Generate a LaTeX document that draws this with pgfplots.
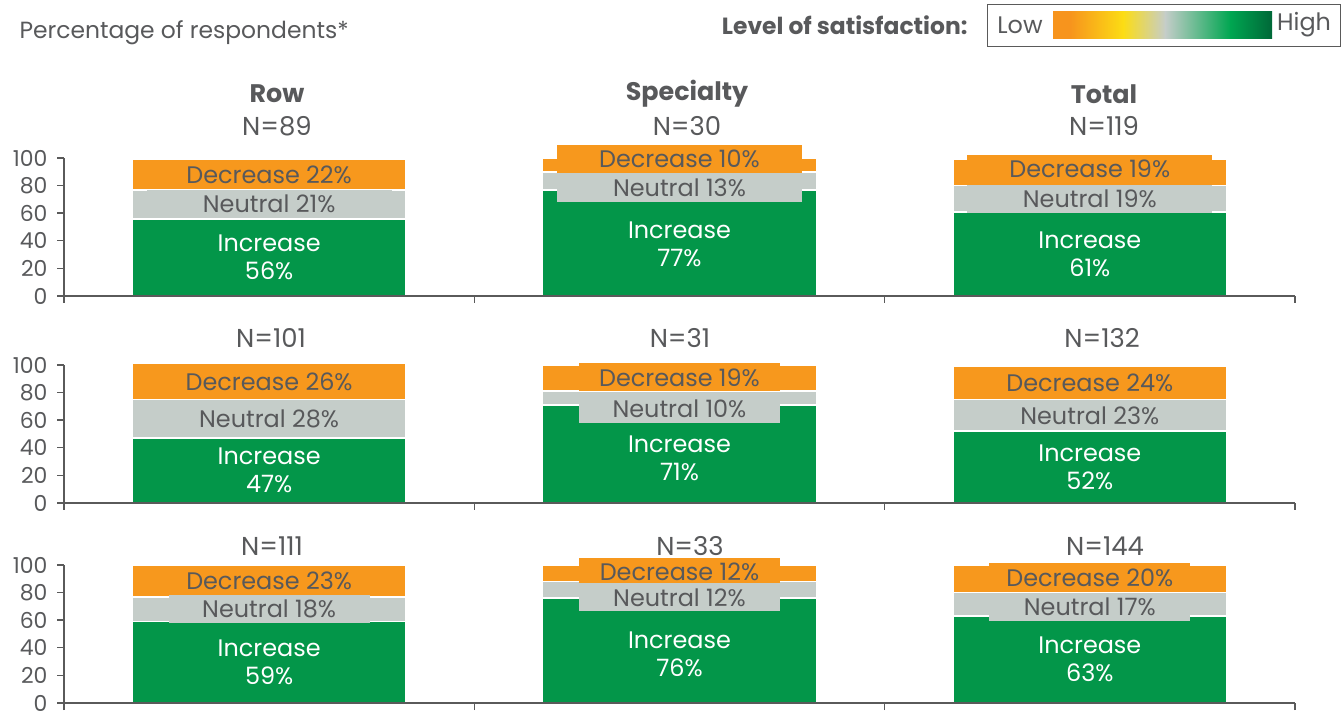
\documentclass[border=0pt]{standalone}
\usepackage{pgfplots}
\pgfplotsset{compat=1.18}
\usepackage{pgfplotstable}
\usepackage{fontspec}
\setmainfont{Poppins}

\definecolor{incgreen}{RGB}{3,150,73}
\definecolor{neugray}{RGB}{197,205,201}
\definecolor{decorange}{RGB}{247,152,29}
\definecolor{txtgray}{RGB}{88,89,91}
\definecolor{axgray}{RGB}{90,90,90}
\definecolor{gorange}{RGB}{247,148,29}
\definecolor{gyellow}{RGB}{252,221,20}
\definecolor{ggray}{RGB}{197,205,201}
\definecolor{ggreen}{RGB}{0,166,81}
\definecolor{gdark}{RGB}{0,104,56}

\newcommand\lblsz{\fontsize{24}{28}\selectfont}
\newcommand\ticksz{\fontsize{22}{24}\selectfont}
\newcommand\nsz{\fontsize{26}{30}\selectfont}
\newcommand\ttlsz{\bfseries\fontsize{25.5}{30}\selectfont}

% x: 0 = Row, 1 = Specialty, 2 = Total
% inc/neu/dec in percent; *off = label nudge in percentage points
\pgfplotstableread{
x inc neu dec incoff neuoff decoff
0 56 21 22  0   0    0
1 77 13 10 -1  -5    4
2 61 19 19  0   0    2.5
}\panelA
\pgfplotstableread{
x inc neu dec incoff neuoff decoff
0 47 28 26  0   0    0
1 71 10 19 -3  -8    0.5
2 52 23 24  0   0    0
}\panelB
\pgfplotstableread{
x inc neu dec incoff neuoff decoff
0 59 18 23  0   0    0
1 76 12 12 -3  -5.5  1
2 63 17 20  0  -2    1
}\panelC

\pgfplotsset{
  panel/.style={
    ybar stacked,
    scale only axis,
    width=1231bp, height=138bp,
    anchor=south west,
    xmin=-0.5, xmax=2.5, ymin=0, ymax=100,
    axis x line=bottom, axis y line=left,
    axis line style={-, draw=axgray, line width=1.4bp},
    xtick={-0.5,0.5,1.5,2.5}, xticklabels={},
    ytick={0,20,40,60,80,100},
    tick align=outside,
    major tick length=7bp,
    tick style={draw=axgray, line width=1.4bp},
    yticklabel style={font=\ticksz, text=txtgray, xshift=-6bp},
    /pgf/number format/assume math mode=true,
    bar width=0.668,
    clip=false,
    axis on top,
  },
  seg/.style={draw=white, line width=1.6bp},
}
\tikzset{
  lbl/.style={draw=none, inner xsep=0pt, inner ysep=0pt, minimum height=28bp,
    minimum width=\boxw, font=\lblsz, align=center, anchor=center},
}

% labels sit at the middle of each segment, nudged by the *off columns
\newcommand\segments[1]{%
  \addplot[fill=incgreen, seg,
    visualization depends on={\thisrow{inc} \as \val},
    visualization depends on={\thisrow{incoff} \as \dy},
    nodes near coords={Increase\\\pgfmathprintnumber{\val}\%},
    every node near coord/.style={lbl, fill=incgreen, text=white,
      shift={(axis direction cs:0,\dy)}}]
    table[x=x, y=inc] {#1};
  \addplot[fill=neugray, seg,
    visualization depends on={\thisrow{neu} \as \val},
    visualization depends on={\thisrow{neuoff} \as \dy},
    nodes near coords={Neutral \pgfmathprintnumber{\val}\%},
    every node near coord/.style={lbl, fill=neugray, text=txtgray,
      shift={(axis direction cs:0,\dy)}}]
    table[x=x, y=neu] {#1};
  \addplot[fill=decorange, seg,
    visualization depends on={\thisrow{dec} \as \val},
    visualization depends on={\thisrow{decoff} \as \dy},
    nodes near coords={Decrease \pgfmathprintnumber{\val}\%},
    every node near coord/.style={lbl, fill=decorange, text=txtgray,
      shift={(axis direction cs:0,\dy)}}]
    table[x=x, y=dec] {#1};
}

\begin{document}
\begin{tikzpicture}[x=1bp, y=1bp]
\useasboundingbox (0,0) rectangle (1344,710);

% header
\node[anchor=west, text=txtgray, font=\fontsize{23.5}{27}\selectfont] at (16,677) {Percentage of respondents*};
\node[anchor=east, text=txtgray, font=\bfseries\fontsize{23.5}{27}\selectfont] at (971,685) {Level of satisfaction:};
\draw[axgray, line width=1bp] (987,663) rectangle (1340,705);
\node[text=txtgray, font=\fontsize{24}{27}\selectfont] at (1020,685) {Low};
\node[text=txtgray, font=\fontsize{24}{27}\selectfont] at (1304,685) {High};
\shade[left color=gorange, right color=gorange] (1053,671) rectangle (1070.5,698);
\shade[left color=gorange, right color=gyellow] (1070,671) rectangle (1123.5,698);
\shade[left color=gyellow, right color=ggray] (1123,671) rectangle (1165.5,698);
\shade[left color=ggray, right color=ggreen] (1165,671) rectangle (1230.5,698);
\shade[left color=ggreen, right color=gdark] (1230,671) rectangle (1272,698);

% column titles
\node[text=txtgray, font=\ttlsz] at (277,616) {Row};
\node[text=txtgray, font=\ttlsz] at (687,616) {Specialty};
\node[text=txtgray, font=\ttlsz] at (1104,616) {Total};

% sample sizes
\node[text=txtgray, font=\nsz] at (277,584) {N=89};
\node[text=txtgray, font=\nsz] at (687,584) {N=30};
\node[text=txtgray, font=\nsz] at (1104,584) {N=119};
\node[text=txtgray, font=\nsz] at (271,372) {N=101};
\node[text=txtgray, font=\nsz] at (680,372) {N=31};
\node[text=txtgray, font=\nsz] at (1102,372) {N=132};
\node[text=txtgray, font=\nsz] at (272,164) {N=111};
\node[text=txtgray, font=\nsz] at (690,164) {N=33};
\node[text=txtgray, font=\nsz] at (1105,164) {N=144};

\def\boxw{245bp}
\begin{axis}[panel, at={(64bp,414bp)}]
  \segments{\panelA}
\end{axis}

\def\boxw{201bp}
\begin{axis}[panel, at={(64bp,207bp)}]
  \segments{\panelB}
\end{axis}

\begin{axis}[panel, at={(64bp,7bp)}]
  \segments{\panelC}
\end{axis}
\end{tikzpicture}
\end{document}
